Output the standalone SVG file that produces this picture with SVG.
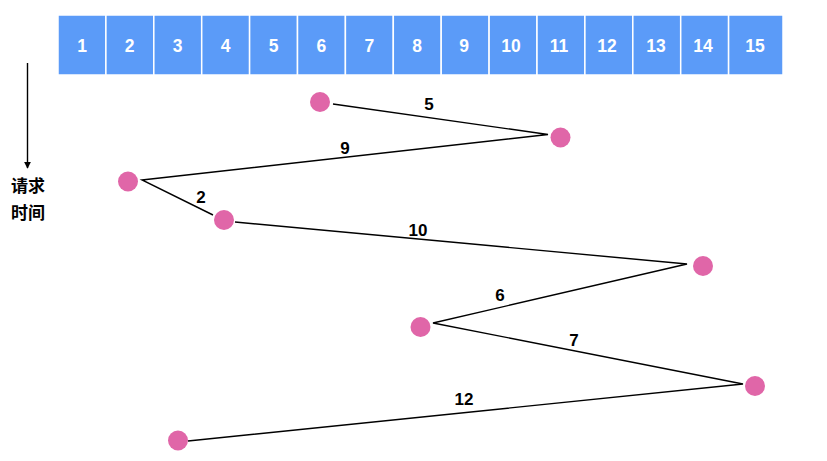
<svg xmlns="http://www.w3.org/2000/svg" width="827" height="461" viewBox="0 0 827 461">
<defs>
<marker id="ah" viewBox="0 0 10 10" refX="9" refY="5" markerWidth="7" markerHeight="7" orient="auto" markerUnits="userSpaceOnUse"><path d="M0,0 L10,5 L0,10 z" fill="#000"/></marker>
</defs>
<style>
.cell{fill:#5b9bf8;stroke:#ffffff;stroke-width:1.5}
.ct{fill:#fff;font-family:"Liberation Sans",Arial,sans-serif;font-weight:bold;font-size:17.5px;text-anchor:middle;dominant-baseline:central}
.dot{fill:#e066a8}
.ln{stroke:#000;stroke-width:1.4;fill:none}
.lb{fill:#000;font-family:"Liberation Sans",Arial,sans-serif;font-weight:bold;font-size:17px;text-anchor:middle;dominant-baseline:central}
.cj{fill:#000;font-family:"Liberation Sans","Noto Sans CJK SC",sans-serif;font-weight:bold;font-size:17px;text-anchor:middle;dominant-baseline:central}
</style>
<rect width="827" height="461" fill="#fff"/>
<g id="bar">
<rect class="cell" x="58" y="15" width="47.9" height="60"/>
<rect class="cell" x="105.9" y="15" width="47.9" height="60"/>
<rect class="cell" x="153.8" y="15" width="47.9" height="60"/>
<rect class="cell" x="201.7" y="15" width="47.9" height="60"/>
<rect class="cell" x="249.6" y="15" width="47.9" height="60"/>
<rect class="cell" x="297.5" y="15" width="47.9" height="60"/>
<rect class="cell" x="345.4" y="15" width="47.9" height="60"/>
<rect class="cell" x="393.3" y="15" width="47.9" height="60"/>
<rect class="cell" x="441.2" y="15" width="47.9" height="60"/>
<rect class="cell" x="489.1" y="15" width="47.9" height="60"/>
<rect class="cell" x="537" y="15" width="47.9" height="60"/>
<rect class="cell" x="584.9" y="15" width="47.9" height="60"/>
<rect class="cell" x="632.8" y="15" width="47.9" height="60"/>
<rect class="cell" x="680.7" y="15" width="47.9" height="60"/>
<rect class="cell" x="728.6" y="15" width="54.4" height="60"/>
<text class="ct" x="82" y="46">1</text>
<text class="ct" x="129.5" y="46">2</text>
<text class="ct" x="177.7" y="46">3</text>
<text class="ct" x="225.6" y="46">4</text>
<text class="ct" x="273.5" y="46">5</text>
<text class="ct" x="321.4" y="46">6</text>
<text class="ct" x="369.3" y="46">7</text>
<text class="ct" x="417.2" y="46">8</text>
<text class="ct" x="464" y="46">9</text>
<text class="ct" x="511" y="46">10</text>
<text class="ct" x="559" y="46">11</text>
<text class="ct" x="607" y="46">12</text>
<text class="ct" x="656" y="46">13</text>
<text class="ct" x="703" y="46">14</text>
<text class="ct" x="755" y="46">15</text>
</g>
<g id="axis">
<line class="ln" x1="27.5" y1="63" x2="27.5" y2="168" marker-end="url(#ah)"/>
<text class="cj" x="28" y="186">请求</text>
<text class="cj" x="28" y="213">时间</text>
</g>
<g id="connectors">
<polyline class="ln" points="333,104 548,134.5 142,180 213,215"/>
<polyline class="ln" points="235,222 687,264 433,323 743,384 188,441"/>
<text class="lb" x="429" y="104">5</text>
<text class="lb" x="345" y="148">9</text>
<text class="lb" x="201" y="197">2</text>
<text class="lb" x="418" y="230">10</text>
<text class="lb" x="500" y="295">6</text>
<text class="lb" x="574" y="340">7</text>
<text class="lb" x="464" y="399">12</text>
</g>
<g id="n6"><circle class="dot" cx="320" cy="102" r="10"/></g>
<g id="n11"><circle class="dot" cx="560.5" cy="137.5" r="10"/></g>
<g id="n2"><circle class="dot" cx="128" cy="181.5" r="10"/></g>
<g id="n4"><circle class="dot" cx="224" cy="220" r="10"/></g>
<g id="n14"><circle class="dot" cx="703" cy="266" r="10"/></g>
<g id="n8"><circle class="dot" cx="420.5" cy="327" r="10"/></g>
<g id="n15"><circle class="dot" cx="755" cy="386" r="10"/></g>
<g id="n3"><circle class="dot" cx="178" cy="440.5" r="10"/></g>
</svg>
